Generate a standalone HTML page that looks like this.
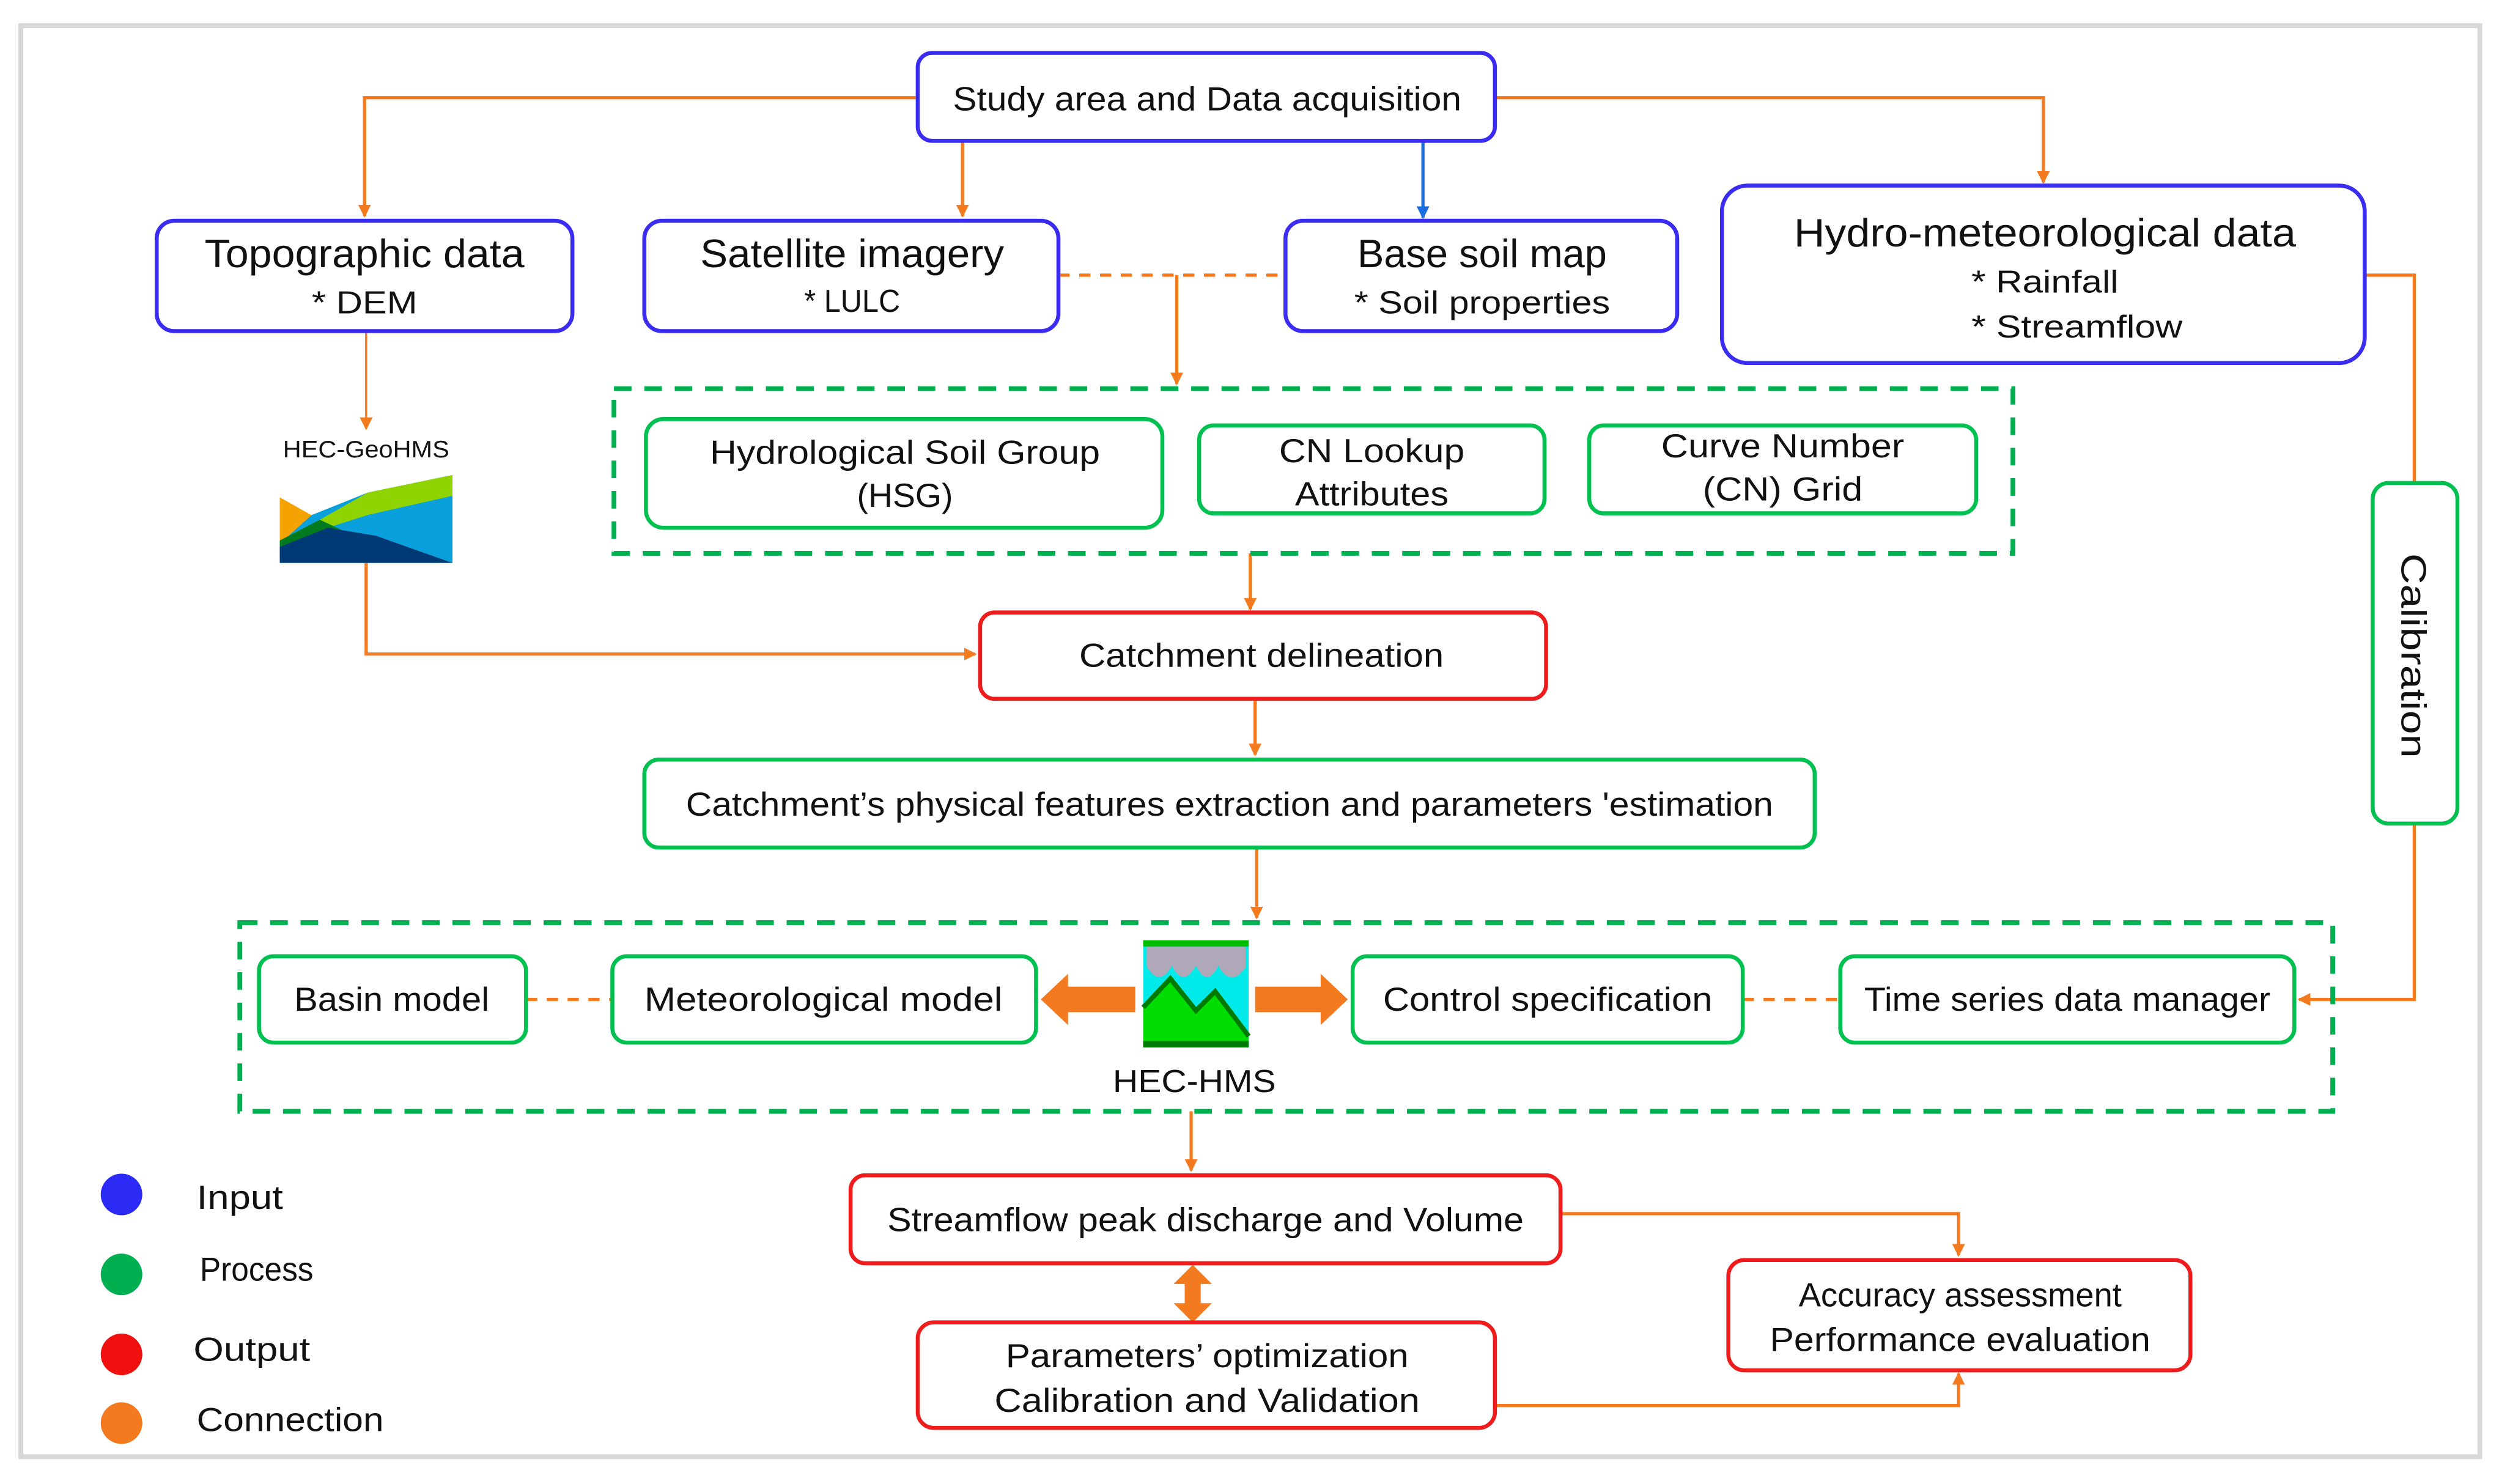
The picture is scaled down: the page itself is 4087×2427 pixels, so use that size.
<!DOCTYPE html>
<html><head><meta charset="utf-8"><style>
html,body{margin:0;padding:0;background:#fff;}
svg{display:block;}
text{font-family:"Liberation Sans",sans-serif;fill:#111;text-anchor:middle;}
</style></head><body>
<svg width="4087" height="2427" viewBox="0 0 1563 928" xmlns="http://www.w3.org/2000/svg">
<defs>
<marker id="ao" markerWidth="8" markerHeight="8" refX="7" refY="4" orient="auto" markerUnits="userSpaceOnUse"><path d="M0,0 L8,4 L0,8 Z" fill="#f47a20"/></marker>
<marker id="ab" markerWidth="8" markerHeight="8" refX="7" refY="4" orient="auto" markerUnits="userSpaceOnUse"><path d="M0,0 L8,4 L0,8 Z" fill="#1a6fe0"/></marker>
</defs>
<rect x="13" y="16" width="1538" height="895" fill="#fff" stroke="#d8d8d8" stroke-width="3"/>

<g fill="none" stroke="#f47a20" stroke-width="2">
<polyline points="574,61 228,61 228,135" marker-end="url(#ao)"/>
<line x1="602" y1="88" x2="602" y2="135" marker-end="url(#ao)"/>
<polyline points="935,61 1278,61 1278,114" marker-end="url(#ao)"/>
<line x1="229" y1="207" x2="229" y2="268" stroke-width="1.3" marker-end="url(#ao)"/>
<polyline points="229,352 229,409 610,409" marker-end="url(#ao)"/>
<line x1="662" y1="172" x2="804" y2="172" stroke-dasharray="7,6"/>
<line x1="736" y1="172" x2="736" y2="240" marker-end="url(#ao)"/>
<line x1="782" y1="346" x2="782" y2="381" marker-end="url(#ao)"/>
<line x1="785" y1="437" x2="785" y2="472" marker-end="url(#ao)"/>
<line x1="786" y1="530" x2="786" y2="574" marker-end="url(#ao)"/>
<line x1="745" y1="695" x2="745" y2="732" marker-end="url(#ao)"/>
<polyline points="1479,172 1510,172 1510,302"/>
<polyline points="1510,515 1510,625 1438,625" marker-end="url(#ao)"/>
<line x1="329" y1="625" x2="383" y2="625" stroke-dasharray="7,6"/>
<line x1="1090" y1="625" x2="1151" y2="625" stroke-dasharray="7,6"/>
<polyline points="976,759 1225,759 1225,785" marker-end="url(#ao)"/>
<polyline points="935,879 1225,879 1225,859" marker-end="url(#ao)"/>
</g>
<line x1="890" y1="88" x2="890" y2="136" stroke="#1a6fe0" stroke-width="2" marker-end="url(#ab)"/>

<!-- thick arrows -->
<path d="M651,625 L668,609 L668,617 L710,617 L710,633 L668,633 L668,641 Z" fill="#f47a20"/>
<path d="M843,625 L826,609 L826,617 L785,617 L785,633 L826,633 L826,641 Z" fill="#f47a20"/>
<path d="M746,791 L758,803 L751,803 L751,815 L758,815 L746,827 L734,815 L741,815 L741,803 L734,803 Z" fill="#f47a20"/>

<!-- dashed groups -->
<rect x="384" y="243" width="875" height="103" fill="none" stroke="#00b050" stroke-width="3" stroke-dasharray="11,8"/>
<rect x="150" y="577" width="1309" height="118" fill="none" stroke="#00b050" stroke-width="3" stroke-dasharray="11,8"/>

<g fill="#fff" stroke-width="2.5">
<rect x="574" y="33" width="361" height="55" rx="9" stroke="#3a2cf0"/>
<rect x="98" y="138" width="260" height="69" rx="11" stroke="#3a2cf0"/>
<rect x="403" y="138" width="259" height="69" rx="11" stroke="#3a2cf0"/>
<rect x="804" y="138" width="245" height="69" rx="11" stroke="#3a2cf0"/>
<rect x="1077" y="116" width="402" height="111" rx="16" stroke="#3a2cf0"/>
<rect x="404" y="262" width="323" height="68" rx="11" stroke="#00c050"/>
<rect x="750" y="266" width="216" height="55" rx="9" stroke="#00c050"/>
<rect x="994" y="266" width="242" height="55" rx="9" stroke="#00c050"/>
<rect x="613" y="383" width="354" height="54" rx="9" stroke="#ee1c1c"/>
<rect x="403" y="475" width="732" height="55" rx="9" stroke="#00c050"/>
<rect x="162" y="598" width="167" height="54" rx="9" stroke="#00c050"/>
<rect x="383" y="598" width="265" height="54" rx="9" stroke="#00c050"/>
<rect x="846" y="598" width="244" height="54" rx="9" stroke="#00c050"/>
<rect x="1151" y="598" width="284" height="54" rx="9" stroke="#00c050"/>
<rect x="1484" y="302" width="53" height="213" rx="10" stroke="#00c050"/>
<rect x="532" y="735" width="444" height="55" rx="9" stroke="#ee1c1c"/>
<rect x="574" y="827" width="361" height="66" rx="10" stroke="#ee1c1c"/>
<rect x="1081" y="788" width="289" height="69" rx="10" stroke="#ee1c1c"/>
</g>

<!-- HEC-GeoHMS icon -->
<text x="229" y="286" font-size="15" textLength="104" lengthAdjust="spacingAndGlyphs">HEC-GeoHMS</text>
<g>
<rect x="175" y="297" width="108" height="55" fill="#fff"/>
<polygon points="175,311 200,325 175,340" fill="#f5a300"/>
<polygon points="195,322 230,308 283,297 283,352 175,352 175,340" fill="#0aa0dc"/>
<polygon points="200,325 230,308 283,297 283,310 230,322 205,330" fill="#8fd400"/>
<polygon points="175,338 200,325 215,332 175,350" fill="#007a1c"/>
<polygon points="175,342 205,330 235,335 283,352 175,352" fill="#003a75"/>
</g>

<!-- HEC-HMS icon -->
<g>
<rect x="715" y="588" width="66" height="67" fill="#00eaea"/>
<rect x="715" y="588" width="66" height="4" fill="#00c000"/>
<path d="M717,592 L779,592 L779,605 Q770,618 762,604 Q755,618 748,604 Q740,618 733,604 Q725,618 717,604 Z" fill="#b0a8b8"/>
<path d="M715,655 L715,630 L732,612 L748,632 L760,620 L781,648 L781,655 Z" fill="#00dd00"/>
<path d="M715,630 L732,612 L748,632 L760,620 L781,648" fill="none" stroke="#007a00" stroke-width="3"/>
<rect x="715" y="651" width="66" height="4" fill="#007a00"/>
</g>

<!-- texts -->
<text x="755" y="69" font-size="21" textLength="318" lengthAdjust="spacingAndGlyphs">Study area and Data acquisition</text>
<text x="228" y="167" font-size="25" textLength="200" lengthAdjust="spacingAndGlyphs">Topographic data</text>
<text x="228" y="196" font-size="20" textLength="66" lengthAdjust="spacingAndGlyphs">* DEM</text>
<text x="533" y="167" font-size="25" textLength="190" lengthAdjust="spacingAndGlyphs">Satellite imagery</text>
<text x="533" y="195" font-size="20" textLength="60" lengthAdjust="spacingAndGlyphs">* LULC</text>
<text x="927" y="167" font-size="25" textLength="156" lengthAdjust="spacingAndGlyphs">Base soil map</text>
<text x="927" y="196" font-size="20" textLength="160" lengthAdjust="spacingAndGlyphs">* Soil properties</text>
<text x="1279" y="154" font-size="25" textLength="314" lengthAdjust="spacingAndGlyphs">Hydro-meteorological data</text>
<text x="1279" y="183" font-size="20" textLength="92" lengthAdjust="spacingAndGlyphs">* Rainfall</text>
<text x="1299" y="211" font-size="20" textLength="132" lengthAdjust="spacingAndGlyphs">* Streamflow</text>
<text x="566" y="290" font-size="21" textLength="244" lengthAdjust="spacingAndGlyphs">Hydrological Soil Group</text>
<text x="566" y="317" font-size="21" textLength="60" lengthAdjust="spacingAndGlyphs">(HSG)</text>
<text x="858" y="289" font-size="21" textLength="116" lengthAdjust="spacingAndGlyphs">CN Lookup</text>
<text x="858" y="316" font-size="21" textLength="96" lengthAdjust="spacingAndGlyphs">Attributes</text>
<text x="1115" y="286" font-size="21" textLength="152" lengthAdjust="spacingAndGlyphs">Curve Number</text>
<text x="1115" y="313" font-size="21" textLength="100" lengthAdjust="spacingAndGlyphs">(CN) Grid</text>
<text x="789" y="417" font-size="21" textLength="228" lengthAdjust="spacingAndGlyphs">Catchment delineation</text>
<text x="769" y="510" font-size="21" textLength="680" lengthAdjust="spacingAndGlyphs">Catchment’s physical features extraction and parameters 'estimation</text>
<text x="245" y="632" font-size="21" textLength="122" lengthAdjust="spacingAndGlyphs">Basin model</text>
<text x="515" y="632" font-size="21" textLength="224" lengthAdjust="spacingAndGlyphs">Meteorological model</text>
<text x="968" y="632" font-size="21" textLength="206" lengthAdjust="spacingAndGlyphs">Control specification</text>
<text x="1293" y="632" font-size="21" textLength="254" lengthAdjust="spacingAndGlyphs">Time series data manager</text>
<text x="747" y="683" font-size="20" textLength="102" lengthAdjust="spacingAndGlyphs">HEC-HMS</text>
<text x="0" y="0" font-size="22" textLength="128" lengthAdjust="spacingAndGlyphs" transform="translate(1502,410) rotate(90)">Calibration</text>
<text x="754" y="770" font-size="21" textLength="398" lengthAdjust="spacingAndGlyphs">Streamflow peak discharge and Volume</text>
<text x="755" y="855" font-size="21" textLength="252" lengthAdjust="spacingAndGlyphs">Parameters’ optimization</text>
<text x="755" y="883" font-size="21" textLength="266" lengthAdjust="spacingAndGlyphs">Calibration and Validation</text>
<text x="1226" y="817" font-size="21" textLength="202" lengthAdjust="spacingAndGlyphs">Accuracy assessment</text>
<text x="1226" y="845" font-size="21" textLength="238" lengthAdjust="spacingAndGlyphs">Performance evaluation</text>

<!-- legend -->
<circle cx="76" cy="747" r="13" fill="#2b2bf5"/>
<circle cx="76" cy="797" r="13" fill="#00b050"/>
<circle cx="76" cy="847" r="13" fill="#f01010"/>
<circle cx="76" cy="890" r="13" fill="#f47a20"/>
<g style="text-anchor:start">
<text x="123" y="756" font-size="21" style="text-anchor:start" textLength="54" lengthAdjust="spacingAndGlyphs">Input</text>
<text x="125" y="801" font-size="21" style="text-anchor:start" textLength="71" lengthAdjust="spacingAndGlyphs">Process</text>
<text x="121" y="851" font-size="21" style="text-anchor:start" textLength="73" lengthAdjust="spacingAndGlyphs">Output</text>
<text x="123" y="895" font-size="21" style="text-anchor:start" textLength="117" lengthAdjust="spacingAndGlyphs">Connection</text>
</g>
</svg>
</body></html>
